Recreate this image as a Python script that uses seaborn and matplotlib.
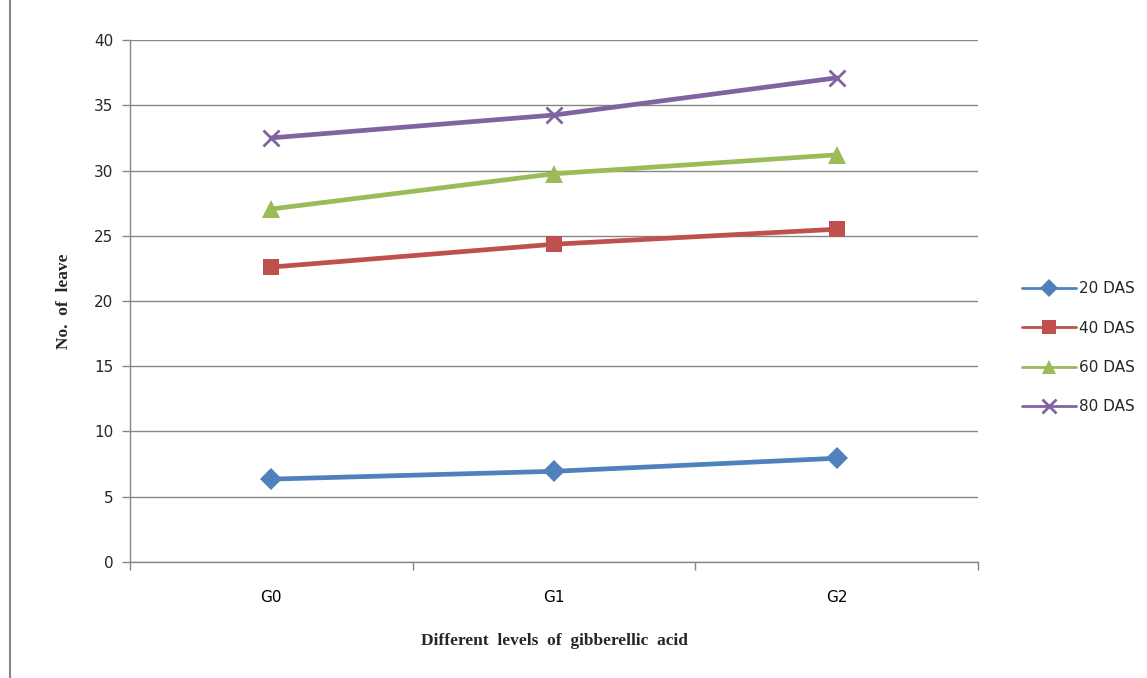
import matplotlib
matplotlib.use("Agg")
import matplotlib.pyplot as plt
import seaborn as sns
import pandas as pd
from matplotlib.lines import Line2D

categories = ["G0", "G1", "G2"]
series_names = ["20 DAS", "40 DAS", "60 DAS", "80 DAS"]
das20 = [6.35, 6.95, 7.95]
das40 = [22.6, 24.35, 25.5]
das60 = [27.05, 29.75, 31.2]
das80 = [32.5, 34.25, 37.1]
y_ticks = [0, 5, 10, 15, 20, 25, 30, 35, 40]

colors = ["#4F81BD", "#C0504D", "#9BBB59", "#8064A2"]
markers = ["D", "s", "^", "x"]
msizes = [11, 12, 13, 12]

rows = []
for name, vals in zip(series_names, [das20, das40, das60, das80]):
    for c, v in zip(categories, vals):
        rows.append({"level": c, "value": v, "series": name})
df = pd.DataFrame(rows)

sns.set_style("white")
fig = plt.figure(figsize=(11.47, 6.78), dpi=100)
ax = fig.add_axes([0.1133, 0.1711, 0.8527 - 0.1133, 0.941 - 0.1711])

for i, name in enumerate(series_names):
    sub = df[df["series"] == name]
    sns.lineplot(data=sub, x="level", y="value", ax=ax, color=colors[i],
                 marker=markers[i], markersize=msizes[i], linewidth=3.4,
                 markeredgewidth=2 if markers[i] == "x" else 0,
                 markeredgecolor=colors[i], legend=False, zorder=3)

ax.set_xlim(-0.5, 2.5)
ax.set_ylim(0, 40)
ax.set_yticks(y_ticks)
ax.set_xticks([0, 1, 2])
ax.set_xticklabels(categories)
ax.set_xticks([-0.5, 0.5, 1.5, 2.5], minor=True)
ax.tick_params(axis="x", which="major", bottom=False, length=0, pad=20, labelsize=11, colors="black")
ax.tick_params(axis="x", which="minor", bottom=True, length=6, width=1, color="#868686", direction="out")
ax.tick_params(axis="y", left=True, length=6, width=1, color="#868686", direction="out", labelsize=11, pad=6)
ax.yaxis.grid(True, color="#868686", linewidth=1)
ax.xaxis.grid(False)
ax.set_axisbelow(True)
for s in ["top", "right"]:
    ax.spines[s].set_visible(False)
for s in ["left", "bottom"]:
    ax.spines[s].set_color("#868686")
    ax.spines[s].set_linewidth(1)

ax.set_xlabel("Different  levels  of  gibberellic  acid", fontfamily="Liberation Serif",
              fontweight="bold", fontsize=12.5, labelpad=20)
ax.set_ylabel("No.  of  leave", fontfamily="Liberation Serif", fontweight="bold",
              fontsize=12.5, labelpad=16)

handles = [Line2D([0], [0], color=colors[i], marker=markers[i], linewidth=2,
                  markersize=msizes[i] * 0.8,
                  markeredgewidth=2 if markers[i] == "x" else 0,
                  markeredgecolor=colors[i]) for i in range(4)]
fig.legend(handles, series_names, loc="center left", bbox_to_anchor=(0.882, 0.487),
           frameon=False, fontsize=11, handlelength=3.5, labelspacing=1.6,
           handletextpad=0.2, borderpad=0.2)

fig.add_artist(Line2D([0.009, 0.009], [0, 1], color="#868686", linewidth=1.5,
                      transform=fig.transFigure))

fig.savefig("out.png", dpi=100)
